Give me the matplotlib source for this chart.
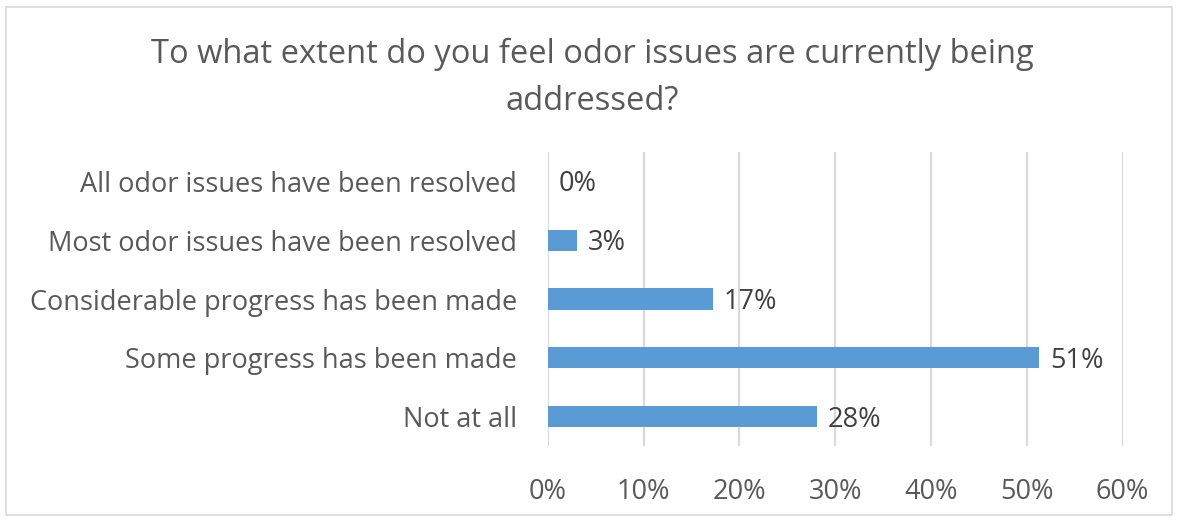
import matplotlib.pyplot as plt
from matplotlib.patches import Rectangle
from matplotlib.ticker import FuncFormatter

plt.rcParams['font.family'] = ['Open Sans', 'DejaVu Sans']

# data (bottom to top)
categories = ['Not at all', 'Some progress has been made',
              'Considerable progress has been made',
              'Most odor issues have been resolved',
              'All odor issues have been resolved']
values = [28.1, 51.3, 17.2, 3.1, 0.0]
xticks = [0, 10, 20, 30, 40, 50, 60]
title = 'To what extent do you feel odor issues are currently being\naddressed?'

fig = plt.figure(figsize=(11.78, 5.21), dpi=100)
fig.patches.append(Rectangle((0.005, 0.012), 0.99, 0.975, transform=fig.transFigure,
                             fill=False, edgecolor='#D9D9D9', linewidth=1.2))

ax = fig.add_axes([0.465, 0.144, 0.488, 0.564])
y = range(len(categories))
ax.barh(y, values, height=0.36, color='#5B9BD5', zorder=3)

for yi, v in zip(y, values):
    ax.text(v + 1.1, yi - 0.05, f'{v:.0f}%', va='center', ha='left',
            fontsize=19.5, color='#404040')

ax.set_xlim(0, 60)
ax.set_ylim(-0.5, 4.5)
ax.set_xticks(xticks)
ax.xaxis.set_major_formatter(FuncFormatter(lambda v, p: f'{v:.0f}%'))
ax.set_yticks(list(y))
ax.set_yticklabels(categories)
ax.tick_params(axis='both', length=0, labelsize=19.5, colors='#595959')
ax.tick_params(axis='x', pad=23)
ax.tick_params(axis='y', pad=22)
ax.grid(axis='x', color='#D9D9D9', linewidth=1.5, zorder=0)
for s in ax.spines.values():
    s.set_visible(False)

fig.text(0.503, 0.851, title, ha='center', va='center', fontsize=23.5,
         color='#595959', linespacing=1.55)

fig.savefig('out.png', dpi=100)
